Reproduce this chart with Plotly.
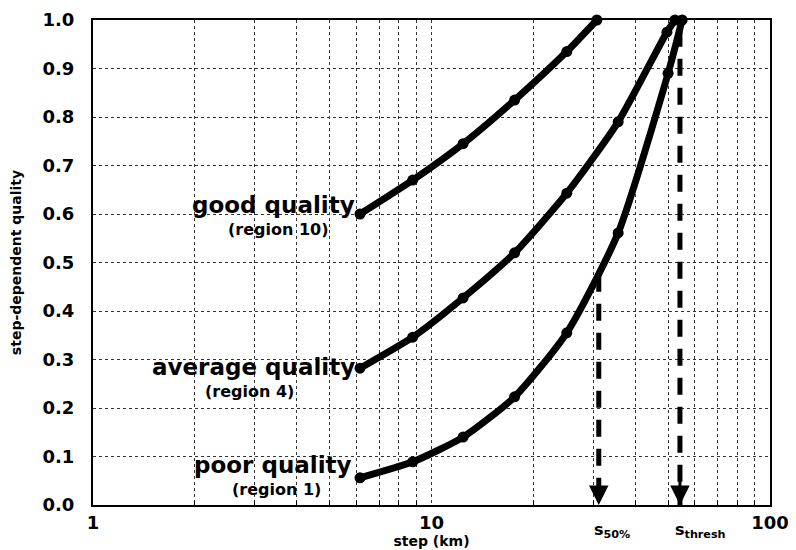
import math
import plotly.graph_objects as go

# ---- data ----
steps_good = [6.15, 8.8, 12.4, 17.6, 25.1, 30.8]
q_good = [0.60, 0.67, 0.745, 0.835, 0.935, 1.0]

steps_avg = [6.15, 8.8, 12.4, 17.6, 25.1, 35.6, 49.6, 52.4]
q_avg = [0.282, 0.346, 0.427, 0.52, 0.643, 0.79, 0.975, 1.0]

steps_poor = [6.15, 8.8, 12.4, 17.6, 25.1, 35.6, 50.0, 55.0]
q_poor = [0.056, 0.089, 0.14, 0.223, 0.355, 0.561, 0.89, 1.0]

s50_x = [31.2, 31.2]
s50_y = [0.475, 0.0]
sthresh_x = [54.2, 54.2]
sthresh_y = [0.98, 0.0]

x_major = [1, 10, 100]
x_minor = [2, 3, 4, 5, 6, 7, 8, 9, 20, 30, 40, 50, 60, 70, 80, 90]
y_ticks = [0.0, 0.1, 0.2, 0.3, 0.4, 0.5, 0.6, 0.7, 0.8, 0.9, 1.0]

FONT = "DejaVu Sans"

fig = go.Figure()

for xs, ys in [(s50_x, s50_y), (sthresh_x, sthresh_y)]:
    fig.add_trace(go.Scatter(
        x=xs, y=ys, mode="lines",
        line=dict(color="black", width=5, dash="17px,12px"),
        hoverinfo="skip", showlegend=False, cliponaxis=False))

for xs, ys in [(steps_good, q_good), (steps_avg, q_avg), (steps_poor, q_poor)]:
    fig.add_trace(go.Scatter(
        x=xs, y=ys, mode="lines+markers",
        line=dict(color="black", width=7, shape="spline", smoothing=0.6),
        marker=dict(color="black", size=11),
        showlegend=False, cliponaxis=False))

annotations = []
# arrowheads at the bottom of the dashed lines
for xv in [s50_x[0], sthresh_x[0]]:
    annotations.append(dict(
        x=math.log10(xv), y=0, xref="x", yref="y", text="", showarrow=True,
        ax=0, ay=-26, axref="pixel", ayref="pixel",
        arrowhead=2, arrowsize=1.3, arrowwidth=3, arrowcolor="black"))

def lab(text, px, py, size, anchor="right"):
    # px, py: position in the reference picture; plot area spans 93..770 x 20..505
    annotations.append(dict(
        text=text, xref="paper", yref="paper",
        x=(px - 93) / 677, y=(505 - py) / 485,
        xanchor=anchor, yanchor="middle", showarrow=False,
        font=dict(family=FONT, size=size, color="black", weight="bold")))

lab("good quality", 357, 205, 23)
lab("(region 10)", 331, 229, 16)
lab("average quality", 357, 367, 23)
lab("(region 4)", 296, 391, 16)
lab("poor quality", 354, 465, 23)
lab("(region 1)", 323, 489, 16)

lab("s<sub>50%</sub>", 612, 530, 16, anchor="center")
lab("s<sub>thresh</sub>", 700, 530, 16, anchor="center")

fig.update_layout(
    width=796, height=550,
    margin=dict(l=85, r=34, t=12, b=53),
    paper_bgcolor="white", plot_bgcolor="white",
    font=dict(family=FONT, color="black"),
    annotations=annotations,
    xaxis=dict(
        type="log", range=[0, 2], automargin=False,
        tickvals=x_major, ticktext=["1", "10", "100"],
        tickfont=dict(family=FONT, size=18, weight="bold", color="black"),
        ticks="", showline=True, linecolor="black", linewidth=2, mirror=True,
        showgrid=True, gridcolor="#333", griddash="dot", gridwidth=1,
        minor=dict(tickvals=x_minor, showgrid=True, gridcolor="#333",
                   griddash="dot", gridwidth=1, ticks="inside", ticklen=4,
                   tickcolor="black"),
        title=dict(text="step (km)", standoff=4,
                   font=dict(family=FONT, size=14, weight="bold", color="black")),
        zeroline=False),
    yaxis=dict(
        range=[0, 1.0], tickvals=y_ticks, automargin=False,
        ticktext=[f"{v:.1f}" for v in y_ticks],
        tickfont=dict(family=FONT, size=18, weight="bold", color="black"),
        ticks="", ticklabelstandoff=13,
        showline=True, linecolor="black", linewidth=2, mirror=True,
        showgrid=True, gridcolor="#333", griddash="dot", gridwidth=1,
        title=dict(text="step-dependent quality", standoff=20,
                   font=dict(family=FONT, size=14, weight="bold", color="black")),
        zeroline=False),
)

fig.write_html("out.html")
